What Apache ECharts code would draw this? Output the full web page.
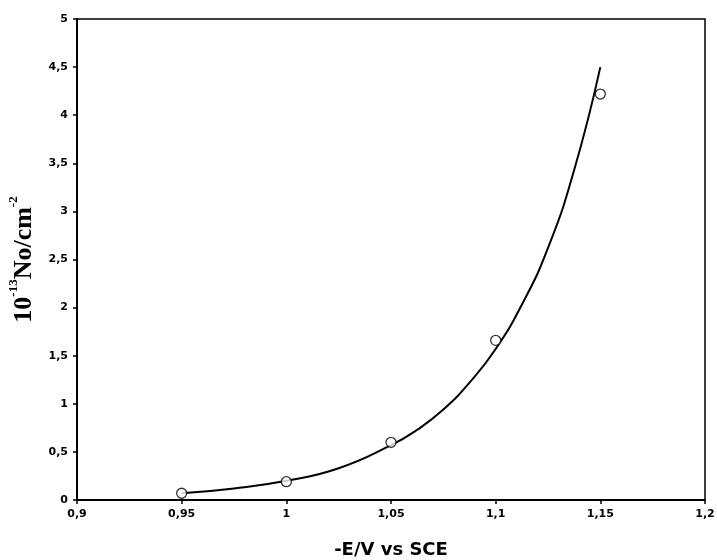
<!DOCTYPE html>
<html>
<head>
<meta charset="utf-8">
<script src="https://cdn.jsdelivr.net/npm/echarts@6/dist/echarts.min.js"></script>
<style>
  html, body { margin: 0; padding: 0; background: #fff; }
  #graph { width: 717px; height: 560px; }
</style>
</head>
<body>
<div id="graph"></div>
<script>
// measured points (open circles)
var pointX = [0.95, 1.0, 1.05, 1.1, 1.15];
var pointY = [0.07, 0.19, 0.60, 1.66, 4.22];

// fitted curve
var curveX = [0.95, 0.975, 1.0, 1.025, 1.05, 1.0625, 1.075, 1.0875, 1.1, 1.1125, 1.125, 1.1375, 1.15];
var curveY = [0.07, 0.12, 0.20, 0.33, 0.57, 0.73, 0.94, 1.22, 1.57, 2.03, 2.62, 3.43, 4.50];

var myChart = echarts.init(document.getElementById('graph'));

function comma(v) {
    return String(+(+v).toFixed(2)).replace('.', ',');
}

var pts = pointX.map(function (x, i) { return [x, pointY[i]]; });
var curve = curveX.map(function (x, i) { return [x, curveY[i]]; });

var tickFont = {
    fontFamily: 'DejaVu Sans',
    fontWeight: 'bold',
    fontSize: 11,
    color: '#000'
};

var option = {
    animation: false,
    grid: {
        left: 77,
        right: 12,
        top: 19,
        bottom: 60,
        outerBoundsMode: 'none',
        show: true,
        borderColor: '#000',
        borderWidth: 1.5,
        backgroundColor: '#fff'
    },
    xAxis: {
        type: 'value',
        min: 0.9,
        max: 1.2,
        interval: 0.05,
        name: '-E/V vs SCE',
        nameLocation: 'middle',
        nameGap: 41,
        nameTextStyle: {
            fontFamily: 'DejaVu Sans',
            fontWeight: 'bold',
            fontSize: 18,
            color: '#000'
        },
        axisLine: { lineStyle: { color: '#000', width: 2 } },
        axisTick: { show: true, inside: false, length: 4, lineStyle: { color: '#000', width: 1.5 } },
        splitLine: { show: false },
        axisLabel: Object.assign({ margin: 9, formatter: comma }, tickFont)
    },
    yAxis: {
        type: 'value',
        min: 0,
        max: 5,
        interval: 0.5,
        name: '{b|10}{s|-13}{b|No/cm}{s|-2}',
        nameLocation: 'middle',
        nameGap: 40,
        nameRotate: 90,
        nameTextStyle: {
            rich: {
                b: {
                    fontFamily: 'Liberation Serif',
                    fontWeight: 'bold',
                    fontSize: 26,
                    color: '#000',
                    lineHeight: 30,
                    verticalAlign: 'bottom'
                },
                s: {
                    fontFamily: 'Liberation Serif',
                    fontWeight: 'bold',
                    fontSize: 13,
                    color: '#000',
                    lineHeight: 30,
                    verticalAlign: 'top'
                }
            }
        },
        axisLine: { show: true, lineStyle: { color: '#000', width: 2 } },
        axisTick: { show: true, inside: false, length: 4, lineStyle: { color: '#000', width: 1.5 } },
        splitLine: { show: false },
        axisLabel: Object.assign({ margin: 9, formatter: comma }, tickFont)
    },
    series: [
        {
            name: 'fit',
            type: 'line',
            data: curve,
            smooth: 0.5,
            symbol: 'none',
            lineStyle: { color: '#000', width: 2 },
            z: 2
        },
        {
            name: 'data',
            type: 'scatter',
            data: pts,
            symbol: 'circle',
            symbolSize: 10,
            itemStyle: { color: '#fff', borderColor: '#000', borderWidth: 1.3 },
            z: 3
        }
    ]
};

myChart.setOption(option);
</script>
</body>
</html>
